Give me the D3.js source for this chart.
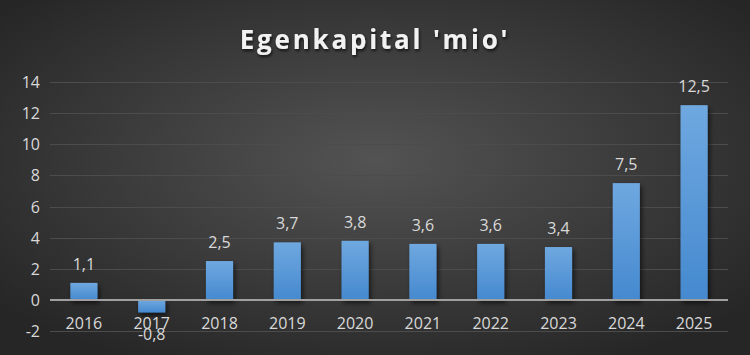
<!DOCTYPE html>
<html><head><meta charset="utf-8">
<script src="https://cdn.jsdelivr.net/npm/d3@7"></script>
<style>html,body{margin:0;padding:0;background:#2b2b2b;}svg{display:block;}</style>
</head><body>
<script>
const categories = ["2016","2017","2018","2019","2020","2021","2022","2023","2024","2025"];
const values = [1.1,-0.8,2.5,3.7,3.8,3.6,3.6,3.4,7.5,12.5];
const yTicks = [-2,0,2,4,6,8,10,12,14];
const title = "Egenkapital 'mio'";

const W=750,H=355;
const svg=d3.select("body").append("svg").attr("width",W).attr("height",H);
const defs=svg.append("defs");
const bg=defs.append("radialGradient").attr("id","bg").attr("cx","50%").attr("cy","45%").attr("r","65%");
bg.append("stop").attr("offset","0%").attr("stop-color","#535353");
bg.append("stop").attr("offset","100%").attr("stop-color","#262626");
const bar=defs.append("linearGradient").attr("id","bar").attr("x1",0).attr("y1",0).attr("x2",0).attr("y2",1);
bar.append("stop").attr("offset","0%").attr("stop-color","#6fa8e0");
bar.append("stop").attr("offset","100%").attr("stop-color","#4589cf");
const sh=defs.append("filter").attr("id","sh").attr("x","-30%").attr("y","-30%").attr("width","160%").attr("height","160%");
sh.append("feDropShadow").attr("dx",2).attr("dy",3).attr("stdDeviation",2.5).attr("flood-color","#000").attr("flood-opacity",0.6);
const ts=defs.append("filter").attr("id","ts");
ts.append("feDropShadow").attr("dx",1).attr("dy",2).attr("stdDeviation",1.5).attr("flood-color","#000").attr("flood-opacity",0.7);

svg.append("rect").attr("width",W).attr("height",H).attr("fill","url(#bg)");

const x=d3.scaleBand().domain(categories).range([50,728]).paddingInner(0.6).paddingOuter(0.3);
const y=d3.scaleLinear().domain([-2,14]).range([331.2,81.8]);

const fontF="'Open Sans','Noto Sans',sans-serif";

// gridlines
svg.append("g").selectAll("line").data(yTicks.filter(t=>t!==0)).join("line")
  .attr("x1",50).attr("x2",728).attr("y1",d=>Math.round(y(d))+0.5).attr("y2",d=>Math.round(y(d))+0.5)
  .attr("stroke","#4c4c4c").attr("stroke-width",1);

// y axis
const yAxis=svg.append("g").attr("transform","translate(40,0)")
  .call(d3.axisLeft(y).tickValues(yTicks).tickSize(0).tickPadding(0).tickFormat(d=>d));
yAxis.select(".domain").remove();
yAxis.selectAll("text").attr("fill","#d9d9d9").style("font-family",fontF).style("font-size","16px").attr("dy","0.35em");

// bars
svg.append("g").selectAll("rect").data(values).join("rect")
  .attr("x",(d,i)=>x(categories[i]))
  .attr("width",x.bandwidth())
  .attr("y",d=>y(Math.max(0,d)))
  .attr("height",d=>Math.abs(y(d)-y(0)))
  .attr("fill","url(#bar)").attr("filter","url(#sh)");

// zero line
svg.append("line").attr("x1",50).attr("x2",728).attr("y1",y(0)).attr("y2",y(0))
  .attr("stroke","#a0a0a0").attr("stroke-width",2);

// x axis labels
const xAxis=svg.append("g").attr("transform","translate(0,"+(y(0))+")")
  .call(d3.axisBottom(x).tickSize(0).tickPadding(18));
xAxis.select(".domain").remove();
xAxis.selectAll("text").attr("fill","#d9d9d9").style("font-family",fontF).style("font-size","16px");

// value labels
const fmt=d=>d3.format(".1f")(d).replace(".",",").replace("−","-");
svg.append("g").selectAll("text").data(values).join("text")
  .attr("x",(d,i)=>x(categories[i])+x.bandwidth()/2)
  .attr("y",d=>d>=0?y(d)-13:y(d)+28)
  .attr("text-anchor","middle")
  .attr("fill","#d9d9d9").style("font-family",fontF).style("font-size","16px")
  .text(fmt);

// title
svg.append("text").attr("x",375).attr("y",49).attr("text-anchor","middle")
  .attr("fill","#f2f2f2").style("font-family",fontF).style("font-size","26px").style("font-weight","bold")
  .style("letter-spacing","2.8px").attr("filter","url(#ts)").text(title);
</script>
</body></html>
